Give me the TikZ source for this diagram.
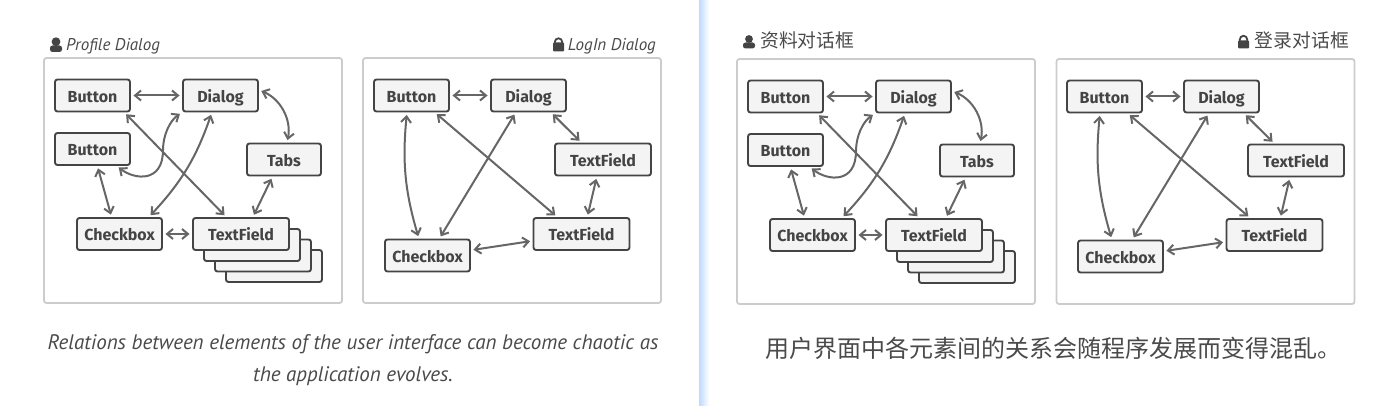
\documentclass[tikz,border=0pt]{standalone}
\usepackage{fontspec}
\usetikzlibrary{arrows.meta}
\setmainfont{PT Sans}
\newfontfamily\boxfont{Fira Sans}
\newfontfamily\cjkfont{Noto Sans CJK SC}
\definecolor{boxline}{HTML}{444444}
\definecolor{boxfill}{HTML}{F4F4F4}
\definecolor{linkline}{HTML}{666666}
\definecolor{panelline}{HTML}{CCCCCC}
\definecolor{textcol}{HTML}{4A4A4A}
\definecolor{barblue}{HTML}{BFD9FF}
\tikzset{elem/.style={draw=boxline, fill=boxfill, line width=1.9pt, rounded corners=2.5pt, inner sep=0pt, minimum height=32pt, text height=13.5pt, text depth=0pt, text=boxline, font=\boxfont\bfseries\fontsize{16}{16}\selectfont}}
\tikzset{wbtn/.style={elem, minimum width=75pt}}
\tikzset{wtabs/.style={elem, minimum width=74pt}}
\tikzset{wchk/.style={elem, minimum width=85pt}}
\tikzset{wtxt/.style={elem, minimum width=96pt}}
\tikzset{panel/.style={draw=panelline, line width=1.8pt, rounded corners=2.5pt, inner sep=0pt, minimum width=298pt, minimum height=245pt}}
\tikzset{link/.style={draw=linkline, line width=2pt, {Straight Barb[length=6pt,width=10pt]}-{Straight Barb[length=6pt,width=10pt]}, shorten <=2.5pt, shorten >=2.5pt}}
\tikzset{title/.style={text=textcol, inner sep=0pt}}
\tikzset{ttl/.style={title, font=\itshape\fontsize{17}{17}\selectfont}}
\tikzset{ttlcn/.style={title, font=\cjkfont\fontsize{18.8}{18.8}\selectfont}}
\tikzset{icon/.style={fill=boxline, draw=none}}
\begin{document}
\begin{tikzpicture}[x=1pt, y=-1pt]
    \useasboundingbox (0, 0) rectangle (1399, 406);
    % divider
    \shade[left color=barblue, right color=white] (699, 0) rectangle (709, 406);

    % profile dialog
    \node[panel] (pnlA) at (193, 180.5) {};
    \fill[icon] (56, 41.7) circle (4.4);
    \fill[icon, rounded corners=2.5pt] (50, 52) -- (50, 45.5) -- (62, 45.5) -- (62, 52) -- cycle;
    \node[ttl, anchor=west] (ttlA) at (66, 46) {Profile Dialog};
    \node[wtxt] (stkA3) at (274, 266) {};
    \node[wtxt] (stkA2) at (263, 255.5) {};
    \node[wtxt] (stkA1) at (252, 245) {};
    \node[wbtn] (btnA) at (92.5, 95.5) {Button};
    \node[wbtn] (btnB) at (92.5, 149) {Button};
    \node[wbtn] (dlgA) at (220.5, 95.5) {Dialog};
    \node[wtabs] (tabA) at (284, 159.5) {Tabs};
    \node[wchk] (chkA) at (119.5, 234) {Checkbox};
    \node[wtxt] (txtA) at (241, 234) {TextField};
    \coordinate (bendA) at (163, 150);

    \draw[link] (btnA.east) -- (dlgA.west);
    \draw[link] (btnA.-28) -- (txtA.131);
    \draw[link] (btnB.-35) .. controls +(18, 14) and +(0, 33) .. (bendA) .. controls +(0, -15) and +(-12, 8) .. (dlgA.south west);
    \draw[link] (dlgA.-117) to[bend left=12] (chkA.30);
    \draw[link] (dlgA.8) to[bend left=40] (tabA.80);
    \draw[link] (btnB.-74) -- (chkA.115);
    \draw[link] (tabA.-124) -- (txtA.55);
    \draw[link] (chkA.east) -- (txtA.west);

    % login dialog
    \node[panel] (pnlB) at (512, 180.5) {};
    \fill[icon, rounded corners=1pt] (553, 42.5) rectangle (564, 51.5);
    \draw[boxline, line width=1.8pt] (554.8, 44) -- (554.8, 42) arc (180:360:3.7) -- (562.2, 44);
    \node[ttl, anchor=east] (ttlB) at (656, 46) {LogIn Dialog};
    \node[wbtn] (btnC) at (411.5, 95.5) {Button};
    \node[wbtn] (dlgB) at (528.5, 95.5) {Dialog};
    \node[wtxt] (txtB) at (603, 159.5) {TextField};
    \node[wtxt] (txtC) at (581.5, 234) {TextField};
    \node[wchk] (chkB) at (427.5, 255.5) {Checkbox};

    \draw[link] (btnC.east) -- (dlgB.west);
    \draw[link] (btnC.-36) -- (txtC.145);
    \draw[link] (btnC.-105) to[bend right=11] (chkB.117);
    \draw[link] (dlgB.-127) -- (chkB.55);
    \draw[link] (dlgB.-37) -- (txtB.142);
    \draw[link] (txtB.-110) -- (txtC.71);
    \draw[link] (txtC.188) -- (chkB.7);

    % zh profile
    \node[panel] (pnlC) at (886, 181.5) {};
    \fill[icon] (749, 39) circle (3.9);
    \fill[icon, rounded corners=2.5pt] (743, 48.5) -- (743, 42.5) -- (755, 42.5) -- (755, 48.5) -- cycle;
    \node[ttlcn, anchor=west] (ttlC) at (760, 40.5) {资料对话框};
    \node[wtxt] (stkC3) at (967, 267) {};
    \node[wtxt] (stkC2) at (956, 256.5) {};
    \node[wtxt] (stkC1) at (945, 246) {};
    \node[wbtn] (btnD) at (785.5, 96.5) {Button};
    \node[wbtn] (btnE) at (785.5, 150) {Button};
    \node[wbtn] (dlgC) at (913.5, 96.5) {Dialog};
    \node[wtabs] (tabC) at (977, 160.5) {Tabs};
    \node[wchk] (chkC) at (812.5, 235) {Checkbox};
    \node[wtxt] (txtD) at (934, 235) {TextField};
    \coordinate (bendC) at (856, 151);

    \draw[link] (btnD.east) -- (dlgC.west);
    \draw[link] (btnD.-28) -- (txtD.131);
    \draw[link] (btnE.-35) .. controls +(18, 14) and +(0, 33) .. (bendC) .. controls +(0, -15) and +(-12, 8) .. (dlgC.south west);
    \draw[link] (dlgC.-117) to[bend left=12] (chkC.30);
    \draw[link] (dlgC.8) to[bend left=40] (tabC.80);
    \draw[link] (btnE.-74) -- (chkC.115);
    \draw[link] (tabC.-124) -- (txtD.55);
    \draw[link] (chkC.east) -- (txtD.west);

    % zh login
    \node[panel] (pnlD) at (1205.5, 181.5) {};
    \fill[icon, rounded corners=1pt] (1238, 40.5) rectangle (1249, 48.5);
    \draw[boxline, line width=1.8pt] (1239.8, 42) -- (1239.8, 39.5) arc (180:360:3.7) -- (1247.2, 42);
    \node[ttlcn, anchor=east] (ttlD) at (1349, 40.5) {登录对话框};
    \node[wbtn] (btnF) at (1104.5, 96.5) {Button};
    \node[wbtn] (dlgD) at (1221.5, 96.5) {Dialog};
    \node[wtxt] (txtE) at (1296, 160.5) {TextField};
    \node[wtxt] (txtF) at (1274.5, 235) {TextField};
    \node[wchk] (chkD) at (1120.5, 256.5) {Checkbox};

    \draw[link] (btnF.east) -- (dlgD.west);
    \draw[link] (btnF.-36) -- (txtF.145);
    \draw[link] (btnF.-105) to[bend right=11] (chkD.117);
    \draw[link] (dlgD.-127) -- (chkD.55);
    \draw[link] (dlgD.-37) -- (txtE.142);
    \draw[link] (txtE.-110) -- (txtF.71);
    \draw[link] (txtF.188) -- (chkD.7);

    % captions
    \node[title, font=\itshape\fontsize{21}{21}\selectfont] (capA) at (353, 344) {Relations between elements of the user interface can become chaotic as};
    \node[title, font=\itshape\fontsize{21}{21}\selectfont] (capB) at (353, 376) {the application evolves.};
    \node[title, font=\cjkfont\fontsize{24}{24}\selectfont] (capC) at (1053, 348) {用户界面中各元素间的关系会随程序发展而变得混乱。};
\end{tikzpicture}
\end{document}
